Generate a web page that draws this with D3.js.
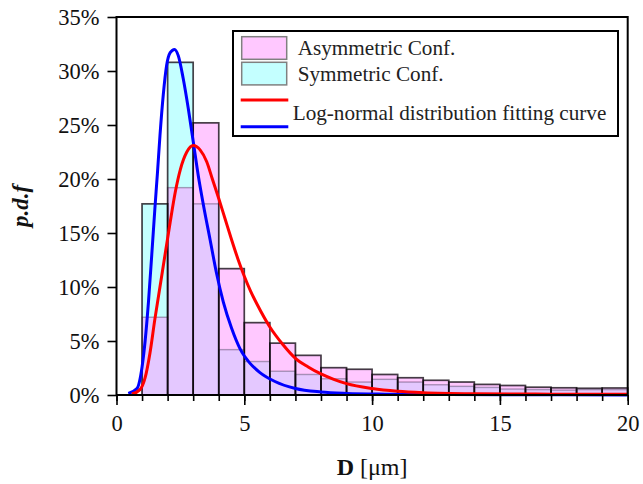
<!DOCTYPE html>
<html><head><meta charset="utf-8">
<script src="https://cdn.jsdelivr.net/npm/d3@7"></script>
<style>body{margin:0;background:#fff} svg{display:block}</style>
</head><body><svg id="c" width="643" height="484"></svg>
<script>
// ---- data ----
const binStarts = [1,2,3,4,5,6,7,8,9,10,11,12,13,14,15,16,17,18,19];
const binWidth = 1;
const asymmetric = [7.2,19.2,25.2,11.7,6.7,4.8,3.67,2.53,2.38,1.9,1.6,1.36,1.2,0.98,0.88,0.72,0.67,0.62,0.65];
const symmetric  = [17.7,30.8,17.7,4.2,3.1,2.2,1.9,1.5,1.2,1.45,1.2,0.95,0.8,0.7,0.55,0.5,0.45,0.5,0.5];
const redD = [0.6,0.92,1.12,1.31,1.5,1.7,1.9,2.1,2.3,2.5,2.75,3.0,3.27,3.53,3.75,4.0,4.25,4.5,4.75,5.0,5.25,5.5,6.0,6.5,7.0,7.5,8.0,8.5,9.0,10.0,11.0,12.0,14,17,20];
const redP = [0.1,0.5,1.6,3.9,7.0,10.0,13.0,16.0,18.8,20.9,22.5,23.1,22.7,21.6,20.0,18.2,16.3,14.4,12.6,11.0,9.6,8.4,6.3,4.7,3.4,2.6,1.95,1.45,1.05,0.6,0.35,0.22,0.12,0.08,0.06];
const blueD = [0.46,0.8,1.0,1.12,1.25,1.38,1.5,1.6,1.7,1.83,1.96,2.1,2.27,2.42,2.61,2.81,3.0,3.2,3.4,3.66,3.92,4.18,4.5,4.83,5.2,5.6,6.2,7.0,8.0,9.0,10.5,13,16,20];
const blueP = [0.15,0.6,2.6,5.0,8.6,13.0,17.2,20.5,24.0,27.8,30.5,31.7,32.0,31.4,29.3,26.5,23.5,20.3,17.6,14.4,11.2,8.6,6.2,4.3,3.0,2.1,1.25,0.6,0.28,0.15,0.08,0.04,0.02,0.01];
const xTicks = [0,5,10,15,20];
const xMinorTicks = [0,1,2,3,4,5,6,7,8,9,10,11,12,13,14,15,16,17,18,19,20];
const yTicks = [0,5,10,15,20,25,30,35];
const legendLabels = ["Asymmetric Conf.","Symmetric Conf.","Log-normal distribution fitting curve"];

// ---- layout ----
const L = 116.5, R = 627.7, T = 17, B = 395;
const svg = d3.select("#c");
const x = d3.scaleLinear().domain([0,20]).range([L,R]);
const y = d3.scaleLinear().domain([0,35]).range([B,T]);
const FONT = "'Liberation Serif', 'Times New Roman', serif";
const PINK = "#ffc8ff", CYAN = "#c4ffff", LAV = "#e4c8ff";

const bins = binStarts.map((s,i)=>({x0:s, x1:s+binWidth, a:asymmetric[i], s:symmetric[i]}));
const gB = svg.append("g");
function rects(cls, val, fill, stroke, sw, op){
  gB.selectAll("rect."+cls).data(bins).join("rect").attr("class",cls)
    .attr("x",d=>x(d.x0)).attr("width",d=>x(d.x1)-x(d.x0))
    .attr("y",d=>y(val(d))).attr("height",d=>B-y(val(d)))
    .attr("fill",fill).attr("stroke",stroke).attr("stroke-width",sw).attr("stroke-opacity",op);
}
rects("asym", d=>d.a, PINK, "none", 0, 0);
rects("sym", d=>d.s, CYAN, "none", 0, 0);
rects("ov", d=>Math.min(d.a,d.s), LAV, "none", 0, 0);
rects("olA", d=>d.a, "none", "#5a3a60", 1.4, 0.45);
rects("olS", d=>d.s, "none", "#5a3a60", 1.4, 0.45);
rects("olM", d=>Math.max(d.a,d.s), "none", "#000", 1.7, 0.62);

// curves
const line = d3.line().x(d=>x(d[0])).y(d=>y(d[1])).curve(d3.curveMonotoneX);
svg.append("path").datum(blueD.map((d,i)=>[d,blueP[i]])).attr("d",line)
  .attr("fill","none").attr("stroke","#0000ff").attr("stroke-width",3);
svg.append("path").datum(redD.map((d,i)=>[d,redP[i]])).attr("d",line)
  .attr("fill","none").attr("stroke","#ff0000").attr("stroke-width",3);

// axes
const ax = svg.append("g").attr("transform",`translate(0,${B})`);
ax.call(d3.axisBottom(x).tickValues(xMinorTicks).tickSize(6).tickSizeOuter(0).tickFormat(""));
ax.append("g").call(d3.axisBottom(x).tickValues(xTicks).tickSize(10).tickSizeOuter(0).tickPadding(10));
ax.selectAll(".domain").remove();
ax.selectAll("line").attr("stroke","#000").attr("stroke-width",1.6);
ax.selectAll("text").attr("font-family",FONT).attr("font-size",22.5).attr("fill","#111");

const ay = svg.append("g").attr("transform",`translate(${L},0)`);
ay.call(d3.axisLeft(y).tickValues(yTicks).tickSize(9).tickSizeOuter(0).tickPadding(8).tickFormat(d=>d+"%"));
ay.selectAll(".domain").remove();
ay.selectAll("line").attr("stroke","#000").attr("stroke-width",1.6);
ay.selectAll("text").attr("font-family",FONT).attr("font-size",22.5).attr("fill","#111");

// frame
svg.append("rect").attr("x",L).attr("y",T).attr("width",R-L).attr("height",B-T)
  .attr("fill","none").attr("stroke","#000").attr("stroke-width",2);

// titles
const xt = svg.append("text").attr("x",(L+R)/2).attr("y",475).attr("text-anchor","middle")
  .attr("font-family",FONT).attr("font-size",24).attr("fill","#111");
xt.append("tspan").attr("font-weight","bold").text("D");
xt.append("tspan").text(" [μm]");
svg.append("text").attr("transform",`translate(28,${(T+B)/2}) rotate(-90)`).attr("text-anchor","middle")
  .attr("font-family",FONT).attr("font-size",23).attr("font-weight","bold").attr("font-style","italic")
  .attr("fill","#111").text("p.d.f");

// legend
const lg = svg.append("g");
lg.append("rect").attr("x",233).attr("y",31).attr("width",385).attr("height",105)
  .attr("fill","#fff").attr("stroke","#000").attr("stroke-width",2);
lg.append("rect").attr("x",241.7).attr("y",36.7).attr("width",45).attr("height",22.6)
  .attr("fill",PINK).attr("stroke","#808080").attr("stroke-width",1.5);
lg.append("rect").attr("x",241.7).attr("y",62.3).attr("width",45).attr("height",22.6)
  .attr("fill",CYAN).attr("stroke","#808080").attr("stroke-width",1.5);
lg.append("line").attr("x1",240.7).attr("x2",288.3).attr("y1",100).attr("y2",100)
  .attr("stroke","#ff0000").attr("stroke-width",3);
lg.append("line").attr("x1",240.7).attr("x2",288.3).attr("y1",126.7).attr("y2",126.7)
  .attr("stroke","#0000ff").attr("stroke-width",3);
const lt = [[297.7,55],[297.7,81],[292.7,120]];
legendLabels.forEach((t,i)=>{
  lg.append("text").attr("x",lt[i][0]).attr("y",lt[i][1]).attr("font-family",FONT)
    .attr("font-size",21.2).attr("fill","#222").text(t);
});
</script></body></html>
